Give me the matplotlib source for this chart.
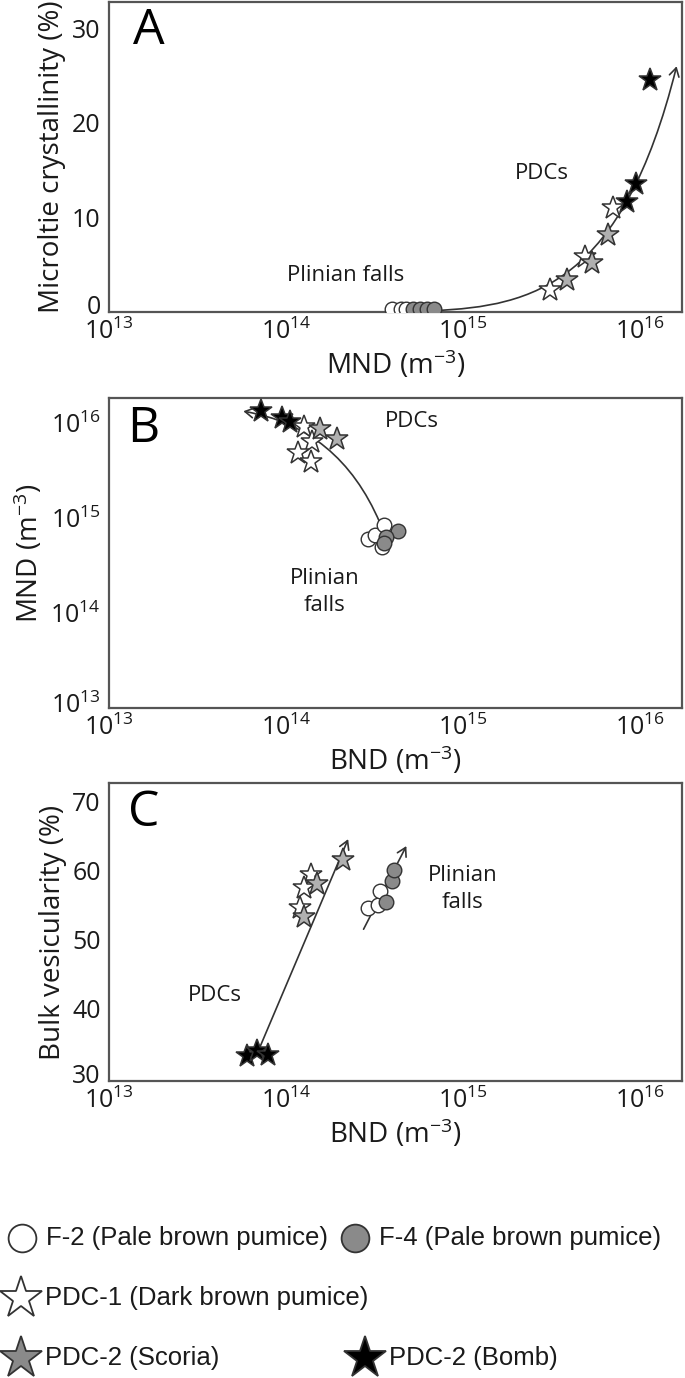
import numpy as np
import matplotlib
matplotlib.use('Agg')
import matplotlib.pyplot as plt
import matplotlib.transforms as mtrans
from matplotlib import font_manager as fm
from matplotlib.path import Path
from matplotlib.patches import FancyArrowPatch

# ---------------- data ----------------
# Panel A : MND (m^-3) vs microlite crystallinity (%)
a_f2_mnd = [3.98e14, 4.47e14, 4.79e14]
a_f2_cry = [0.3, 0.3, 0.3]
a_f4_mnd = [5.25e14, 5.75e14, 6.3e14, 6.9e14]
a_f4_cry = [0.3, 0.3, 0.3, 0.3]
a_pdc1_mnd = [3.1e15, 4.9e15, 7.1e15]
a_pdc1_cry = [2.3, 5.8, 11.0]
a_sco_mnd = [3.9e15, 5.4e15, 6.6e15]
a_sco_cry = [3.4, 5.2, 8.1]
a_bomb_mnd = [8.5e15, 9.5e15, 1.15e16]
a_bomb_cry = [11.6, 13.5, 24.5]

# Panel B : BND vs MND
b_f2_bnd = [2.9e14, 3.2e14, 3.6e14, 3.5e14]
b_f2_mnd = [6.0e14, 6.6e14, 8.5e14, 4.9e14]
b_f4_bnd = [4.3e14, 3.7e14, 3.6e14]
b_f4_mnd = [7.2e14, 6.3e14, 5.5e14]
b_pdc1_bnd = [1.26e14, 1.41e14, 1.17e14, 1.38e14]
b_pdc1_mnd = [9.1e15, 6.3e15, 4.8e15, 3.9e15]
b_sco_bnd = [1.55e14, 1.95e14]
b_sco_mnd = [8.5e15, 6.8e15]
b_bomb_bnd = [7.2e13, 9.5e13, 1.05e14]
b_bomb_mnd = [1.32e16, 1.12e16, 1.02e16]

# Panel C : BND vs bulk vesicularity (%)
c_f2_bnd = [2.9e14, 3.3e14, 3.4e14]
c_f2_ves = [54.5, 55.0, 57.0]
c_f4_bnd = [3.7e14, 4.0e14, 4.1e14]
c_f4_ves = [55.5, 58.5, 60.0]
c_pdc1_bnd = [1.2e14, 1.38e14, 1.26e14]
c_pdc1_ves = [54.5, 59.3, 57.5]
c_sco_bnd = [1.5e14, 2.1e14, 1.26e14]
c_sco_ves = [58.0, 61.5, 53.2]
c_bomb_bnd = [6.0e13, 6.9e13, 7.9e13]
c_bomb_ves = [33.2, 34.0, 33.3]

log_ticks = [1e13, 1e14, 1e15, 1e16]
log_ticklabels = [r'$\mathregular{10^{13}}$', r'$\mathregular{10^{14}}$',
                  r'$\mathregular{10^{15}}$', r'$\mathregular{10^{16}}$']
a_yticks = [0, 10, 20, 30]
c_yticks = [30, 40, 50, 60, 70]

legend_labels = ['F-2 (Pale brown pumice)', 'F-4 (Pale brown pumice)',
                 'PDC-1 (Dark brown pumice)', 'PDC-2 (Scoria)', 'PDC-2 (Bomb)']

# ---------------- style ----------------
plt.rcParams['font.family'] = ['Open Sans', 'DejaVu Sans']
plt.rcParams['mathtext.fontset'] = 'custom'
plt.rcParams['mathtext.rm'] = 'Open Sans'
plt.rcParams['mathtext.it'] = 'Open Sans'
names = {f.name for f in fm.fontManager.ttflist}
leg_font = 'Liberation Sans Narrow' if 'Liberation Sans Narrow' in names else 'Liberation Sans'

TXT = '#1a1a1a'
SPINE = '#555555'
GRAY = '#8a8a8a'
W, H = 685, 1378
fig = plt.figure(figsize=(W / 100, H / 100), dpi=100)

TICK_FS = 18
LAB_FS = 20
ANN_FS = 16


def add_axes(top, bottom):
    left, right = 109, 682
    return fig.add_axes([left / W, 1 - bottom / H, (right - left) / W, (bottom - top) / H])


def style(ax, lift=3.5):
    for s in ax.spines.values():
        s.set_color(SPINE)
        s.set_linewidth(1.6)
    ax.tick_params(length=0, labelsize=TICK_FS, colors=TXT)
    ax.tick_params(axis='x', pad=5)
    ax.tick_params(axis='y', pad=6)
    ax.minorticks_off()
    # lift the lowest y tick label a little so it clears the first x label
    t0 = ax.yaxis.get_major_ticks()[0]
    t0.label1.set_transform(t0.label1.get_transform() +
                            mtrans.ScaledTranslation(0, lift / 72, fig.dpi_scale_trans))


CIRC = dict(marker='o', ms=10.5, mec='#333333', mew=1.0, ls='none')
STAR = dict(marker='*', ms=17, mec='#333333', mew=1.1, ls='none')


def scatter_all(ax, f2, f4, p1, sc, bo):
    ax.plot(*f2, mfc='white', zorder=5, **CIRC)
    ax.plot(*f4, mfc=GRAY, zorder=5, **CIRC)
    ax.plot(*p1, mfc='white', zorder=5, **STAR)
    ax.plot(*sc, mfc='#b0b0b0', zorder=5, **STAR)
    ax.plot(*bo, mfc='black', zorder=6, **STAR)


def guide(ax, verts, codes):
    p = FancyArrowPatch(path=Path(verts, codes), arrowstyle='->,head_length=6,head_width=3.5',
                        color='#333333', lw=1.2, transform=ax.transData, zorder=4)
    ax.add_patch(p)


# ---------------- panel A ----------------
axA = add_axes(2, 312)
axA.set_xscale('log')
axA.set_xlim(1e13, 10 ** 16.24)
axA.set_ylim(0, 32.8)
axA.set_xticks(log_ticks)
axA.set_xticklabels(log_ticklabels)
axA.set_yticks(a_yticks)
style(axA, lift=5.5)
axA.set_xlabel(r'MND (m$^{-3}$)', fontsize=LAB_FS, color=TXT, labelpad=2)
axA.set_ylabel('Microltie crystallinity (%)', fontsize=LAB_FS, color=TXT, labelpad=4)
guide(axA, [(6.9e14, 0.15), (2.5e15, 0.6), (8e15, 3.0), (1.62e16, 26.0)],
      [Path.MOVETO, Path.CURVE4, Path.CURVE4, Path.CURVE4])
scatter_all(axA, (a_f2_mnd, a_f2_cry), (a_f4_mnd, a_f4_cry), (a_pdc1_mnd, a_pdc1_cry),
            (a_sco_mnd, a_sco_cry), (a_bomb_mnd, a_bomb_cry))
axA.text(0.069, 0.905, 'A', transform=axA.transAxes, fontsize=36, ha='center', va='center', color='black')
axA.text(10 ** 15.45, 14.7, 'PDCs', fontsize=ANN_FS, ha='center', va='center', color=TXT)
axA.text(10 ** 14.34, 3.9, 'Plinian falls', fontsize=ANN_FS, ha='center', va='center', color=TXT)

# ---------------- panel B ----------------
axB = add_axes(398, 708)
axB.set_xscale('log')
axB.set_yscale('log')
axB.set_xlim(1e13, 10 ** 16.24)
axB.set_ylim(1e13, 10 ** 16.26)
axB.set_xticks(log_ticks)
axB.set_xticklabels(log_ticklabels)
axB.set_yticks(log_ticks)
axB.set_yticklabels(log_ticklabels)
style(axB)
axB.set_xlabel(r'BND (m$^{-3}$)', fontsize=LAB_FS, color=TXT, labelpad=2)
axB.set_ylabel(r'MND (m$^{-3}$)', fontsize=LAB_FS, color=TXT, labelpad=4)
guide(axB, [(3.4e14, 8.9e14), (2.0e14, 8.9e15), (5.75e13, 1.32e16)],
      [Path.MOVETO, Path.CURVE3, Path.CURVE3])
scatter_all(axB, (b_f2_bnd, b_f2_mnd), (b_f4_bnd, b_f4_mnd), (b_pdc1_bnd, b_pdc1_mnd),
            (b_sco_bnd, b_sco_mnd), (b_bomb_bnd, b_bomb_mnd))
axB.text(0.06, 0.9, 'B', transform=axB.transAxes, fontsize=36, ha='center', va='center', color='black')
axB.text(10 ** 14.71, 10 ** 16.01, 'PDCs', fontsize=ANN_FS, ha='center', va='center', color=TXT)
axB.text(10 ** 14.22, 10 ** 14.22, 'Plinian\nfalls', fontsize=ANN_FS, ha='center', va='center',
         color=TXT, linespacing=1.35)

# ---------------- panel C ----------------
axC = add_axes(783, 1081)
axC.set_xscale('log')
axC.set_xlim(1e13, 10 ** 16.24)
axC.set_ylim(29.6, 72.6)
axC.set_xticks(log_ticks)
axC.set_xticklabels(log_ticklabels)
axC.set_yticks(c_yticks)
style(axC)
axC.set_xlabel(r'BND (m$^{-3}$)', fontsize=LAB_FS, color=TXT, labelpad=2)
axC.set_ylabel('Bulk vesicularity (%)', fontsize=LAB_FS, color=TXT, labelpad=4)
guide(axC, [(7.0e13, 34.0), (2.25e14, 64.5)], [Path.MOVETO, Path.LINETO])
guide(axC, [(2.75e14, 51.5), (4.8e14, 63.5)], [Path.MOVETO, Path.LINETO])
scatter_all(axC, (c_f2_bnd, c_f2_ves), (c_f4_bnd, c_f4_ves), (c_pdc1_bnd, c_pdc1_ves),
            (c_sco_bnd, c_sco_ves), (c_bomb_bnd, c_bomb_ves))
axC.text(0.06, 0.9, 'C', transform=axC.transAxes, fontsize=36, ha='center', va='center', color='black')
axC.text(10 ** 13.6, 42.0, 'PDCs', fontsize=ANN_FS, ha='center', va='center', color=TXT)
axC.text(10 ** 15.0, 57.3, 'Plinian\nfalls', fontsize=ANN_FS, ha='center', va='center',
         color=TXT, linespacing=1.35)

# ---------------- legend ----------------
axL = fig.add_axes([0, 0, 1, 1], zorder=-1)
axL.set_xlim(0, W)
axL.set_ylim(H, 0)
axL.axis('off')
leg_items = [
    (22, 1238, 'o', 'white', 20),
    (355, 1238, 'o', GRAY, 20),
    (21, 1298, '*', 'white', 32),
    (21, 1358, '*', GRAY, 32),
    (365, 1358, '*', 'black', 32),
]
for (x, y, m, fc, ms), lab in zip(leg_items, legend_labels):
    axL.plot([x], [y], marker=m, ms=ms, mfc=fc, mec='#333333', mew=1.3, ls='none')
    axL.text(x + 24, y, lab, fontsize=18.5, family=leg_font, ha='left', va='center', color=TXT)

fig.savefig('out.png', dpi=100)
